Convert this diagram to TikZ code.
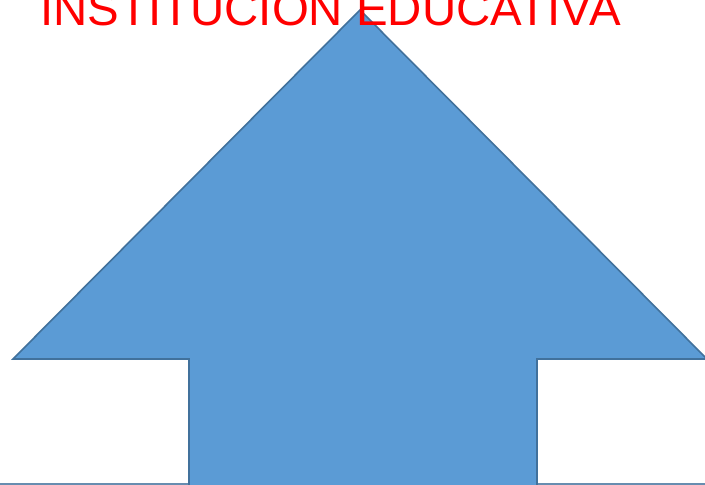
\documentclass[tikz,border=0pt]{standalone}
\usepackage{fontspec}
\setmainfont{Liberation Sans}
\definecolor{arrowfill}{HTML}{5B9BD5}
\definecolor{arrowline}{HTML}{41719C}
\definecolor{titlered}{HTML}{FF0000}
\tikzset{
  arrowshape/.style={fill=arrowfill, draw=arrowline, line width=1.6pt, line join=miter},
  baseline/.style={draw=arrowline!80!white, line width=2pt},
  titletext/.style={text=titlered, inner sep=0pt, font=\fontsize{47.4}{50}\selectfont}
}
\begin{document}
\begin{tikzpicture}[x=1pt,y=-1pt]
\useasboundingbox (0,0) rectangle (705,485);
\clip (0,0) rectangle (705,485);
\fill[white] (0,0) rectangle (705,485);
\draw[arrowshape] (360,10) -- (707,359) -- (537,359) -- (537,495) -- (189,495) -- (189,359) -- (13,359) -- cycle;
\draw[baseline] (0,483.5) -- (188,483.5);
\draw[baseline] (538,483.5) -- (705,483.5);
\node[titletext, anchor=base] (title) at (330.5,25) {INSTITUCION EDUCATIVA};
\end{tikzpicture}
\end{document}
